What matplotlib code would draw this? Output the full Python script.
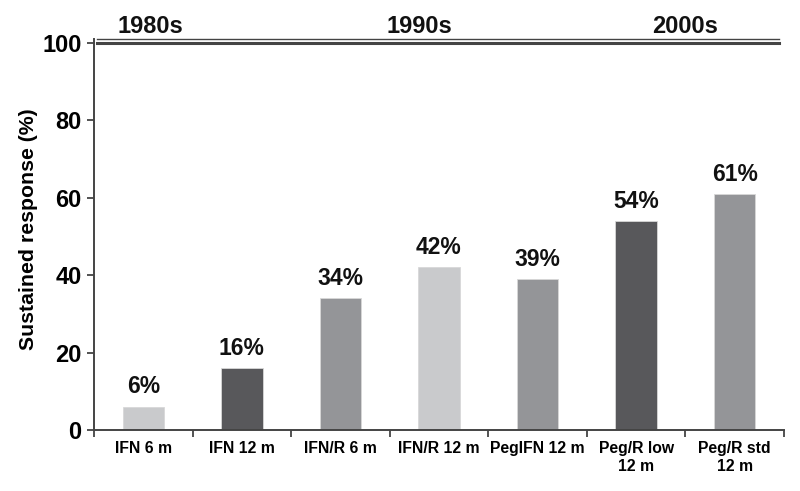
import matplotlib
matplotlib.use("Agg")
import matplotlib.pyplot as plt
import numpy as np

categories = ["IFN 6 m", "IFN 12 m", "IFN/R 6 m", "IFN/R 12 m", "PegIFN 12 m", "Peg/R low\n12 m", "Peg/R std\n12 m"]
values = [6, 16, 34, 42, 39, 54, 61]
colors = ["#c9cacc", "#58585b", "#949598", "#c9cacc", "#949598", "#58585b", "#949598"]
decades = ["1980s", "1990s", "2000s"]
decade_pos = [0.07, 2.8, 5.5]
yticks = [0, 20, 40, 60, 80, 100]

plt.rcParams['font.family'] = ['Liberation Sans', 'DejaVu Sans']
fig = plt.figure(figsize=(8, 4.91), dpi=100)
ax = fig.add_axes([94/800, 1-430/491, (784-94)/800, (430-43)/491])

x = np.arange(len(categories))
ax.bar(x, values, width=0.42, color=colors, edgecolor="#d8d8d8", linewidth=0.6, zorder=2)
for xi, v in zip(x, values):
    ax.annotate(f"{v}%", (xi, v), xytext=(0, 6), textcoords="offset points",
                ha="center", va="bottom", fontsize=16.5, fontweight="bold", color="#111111")

ax.set_xlim(-0.5, len(categories) - 0.5)
ax.set_ylim(0, 100)
ax.set_yticks(yticks)
ax.set_yticklabels([str(t) for t in yticks], fontsize=17, fontweight="bold")
ax.set_xticks(np.arange(-0.5, len(categories), 1.0))
ax.set_xticklabels([])
ax.set_xticks(x, minor=True)
ax.set_xticklabels(categories, minor=True, fontsize=11.3, fontweight="bold")
ax.tick_params(axis="x", which="minor", length=0, pad=8)
ax.tick_params(axis="x", which="major", length=5, width=1.3, color="#444444", direction="out")
ax.tick_params(axis="y", length=5, width=1.3, color="#444444", direction="out", pad=4)
ax.set_ylabel("Sustained response (%)", fontsize=15.3, fontweight="bold")
ax.yaxis.set_label_coords((38 - 94) / 690, 0.52)

for s in ["top", "right"]:
    ax.spines[s].set_visible(False)
for s in ["left", "bottom"]:
    ax.spines[s].set_color("#444444")
    ax.spines[s].set_linewidth(1.4)
ax.spines["left"].set_bounds(0, 100)

# double line at top
trans = ax.get_xaxis_transform()
ax.plot([0.004, 0.993], [1.0, 1.0], transform=ax.transAxes, color="#444444", lw=2.2, clip_on=False)
ax.plot([0.004, 0.993], [1.0 + 4/387, 1.0 + 4/387], transform=ax.transAxes, color="#444444", lw=1.0, clip_on=False)
ax.plot([0, 0], [1.0, 1.0 + 4/387], transform=ax.transAxes, color="#444444", lw=1.4, clip_on=False)

for d, p in zip(decades, decade_pos):
    ax.text(p, 1.0 + 5/387, d, transform=trans, ha="center", va="bottom",
            fontsize=17, fontweight="bold", color="#111111")

fig.savefig("out.png", dpi=100)
